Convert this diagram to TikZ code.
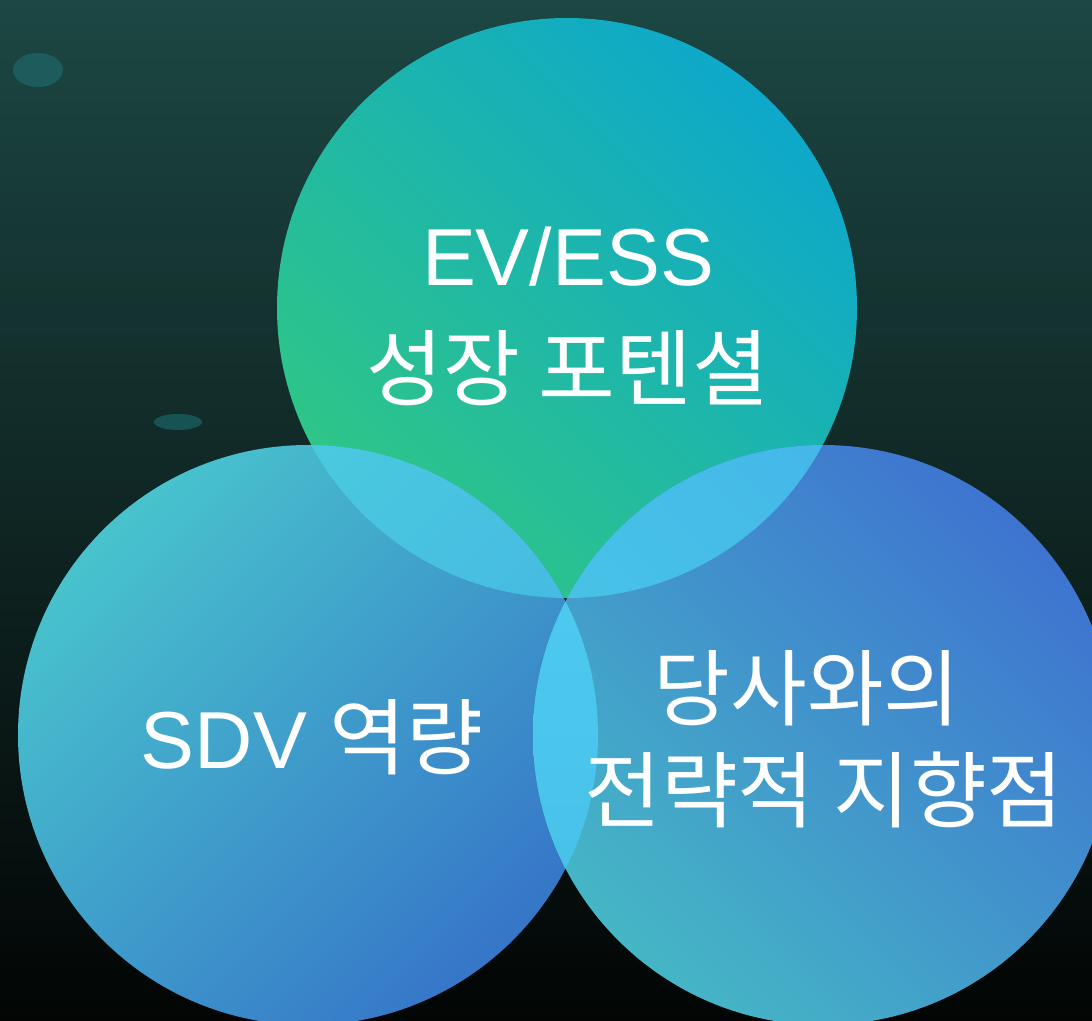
\documentclass[tikz,border=0pt]{standalone}
\usepackage{fontspec}
\setmainfont{Liberation Sans}
\newfontfamily\krfont{Noto Sans CJK KR}
\usetikzlibrary{positioning}

\definecolor{bgtop}{HTML}{1C4743}
\definecolor{bgmid}{HTML}{122C27}
\definecolor{bgbot}{HTML}{020504}
\definecolor{dotcol}{HTML}{1E6E72}
\definecolor{evgreen}{HTML}{2FC686}
\definecolor{evteal}{HTML}{0EA8CA}
\definecolor{sdvcyan}{HTML}{48C3CD}
\definecolor{sdvblue}{HTML}{3676C8}
\definecolor{stratteal}{HTML}{45B6C6}
\definecolor{stratblue}{HTML}{3E74D0}
\definecolor{lapA}{HTML}{4BCEDD}
\definecolor{lapB}{HTML}{44B0E6}
\definecolor{lapC}{HTML}{49CBE4}
\definecolor{lapD}{HTML}{44B4EA}
\definecolor{lensA}{HTML}{4FCEF3}
\definecolor{lensB}{HTML}{46BDE6}

\begin{document}
\begin{tikzpicture}[x=0.02cm,y=-0.02cm]
		\tikzstyle{every node}+=[inner sep=0pt, text=white]
		\tikzstyle{venntext}=[font=\fontsize{46}{54}\selectfont]
		\tikzstyle{krtext}=[font=\fontsize{47.5}{54}\selectfont\krfont]
		\useasboundingbox (0,0) rectangle (1092,1021);
		\clip (0,0) rectangle (1092,1021);
		% background
		\shade [top color=bgtop, middle color=bgmid, bottom color=bgbot] (0,0) rectangle (1092,1021);
		\fill [dotcol, opacity=0.6] (38,70) ellipse (25 and 17);
		\fill [dotcol, opacity=0.6] (178,422) ellipse (24 and 8);
		% circles
		\shade [bottom color=evgreen, top color=evteal, shading angle=-45] (567,308) circle (290);
		\shade [bottom color=sdvblue, top color=sdvcyan, shading angle=45] (308,735) circle (290);
		\shade [bottom color=stratteal, top color=stratblue, shading angle=-45] (823,735) circle (290);
		% overlaps
		\begin{scope}
		\clip (567,308) circle (290);
		\shade [top color=lapA, bottom color=lapB, shading angle=45] (308,735) circle (290);
		\end{scope}
		\begin{scope}
		\clip (567,308) circle (290);
		\shade [top color=lapD, bottom color=lapC, shading angle=-45] (823,735) circle (290);
		\end{scope}
		\begin{scope}
		\clip (308,735) circle (290);
		\shade [top color=lensA, bottom color=lensB] (823,735) circle (290);
		\end{scope}
		% labels
		\node [venntext] (ev) at (568,257) {EV/ESS};
		\node [krtext] (growth) at (568,368) {성장 포텐셜};
		\node [venntext] (sdv) at (312,737) {SDV {\fontsize{47.5}{54}\selectfont\krfont 역량}};
		\node [krtext] (partner) at (807,688) {당사와의};
		\node [krtext] (strategy) at (824,790) {전략적 지향점};
\end{tikzpicture}
\end{document}
